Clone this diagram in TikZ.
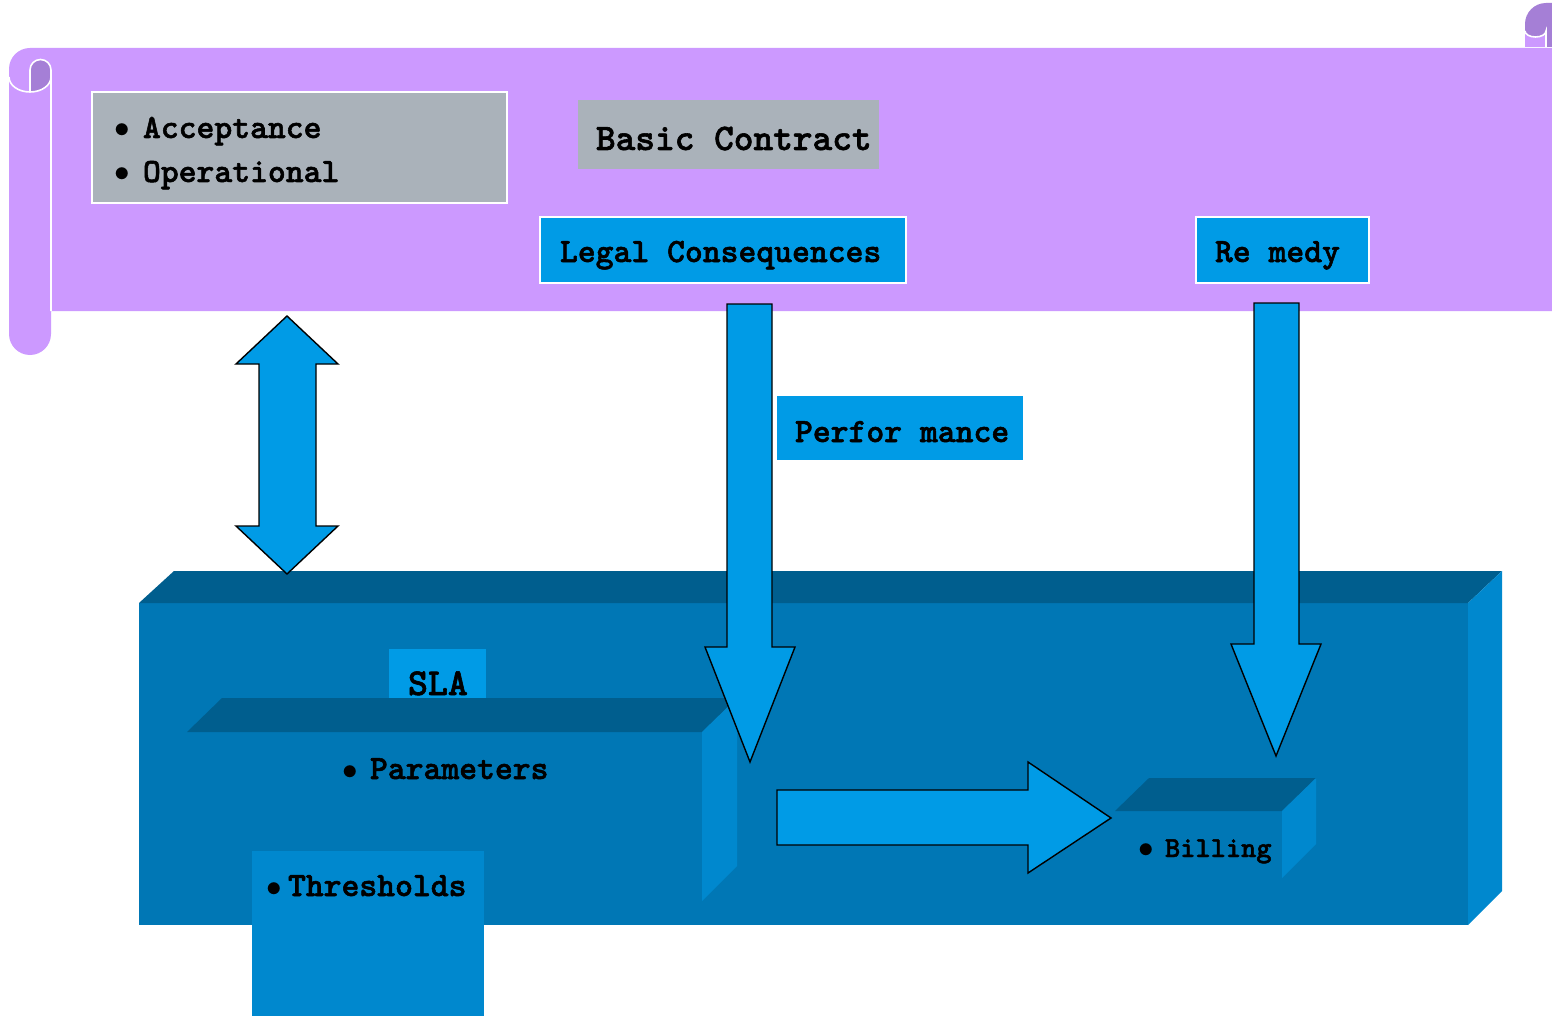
\documentclass[tikz,border=0pt]{standalone}
\usepackage{fontspec}
\usepackage{tikz}

% heavy slab-serif typewriter face
\newfontfamily\cour{lmmonolt10-bold.otf}[FakeBold=1.6]

\definecolor{scroll}{HTML}{CC99FF}
\definecolor{scrolldark}{HTML}{A57FD6}
\definecolor{panelgray}{HTML}{AAB2BA}
\definecolor{brightblue}{HTML}{009BE6}
\definecolor{slafront}{HTML}{0077B5}
\definecolor{slatop}{HTML}{005E8E}
\definecolor{slaside}{HTML}{0088CE}

\newcommand{\bul}{\raisebox{0em}{\scalebox{1.25}{$\bullet$}}}

\tikzset{
  graypanel/.style={fill=panelgray},
  bluepanel/.style={fill=brightblue},
  framed/.style={draw=white, line width=1.5pt},
  frontface/.style={fill=slafront},
  topface/.style={fill=slatop},
  sideface/.style={fill=slaside},
  blockarrow/.style={fill=brightblue, draw=black, line width=1.4pt, line join=miter},
  rollline/.style={draw=white, line width=1.6pt},
  lbl/.style={anchor=base west, inner sep=0pt, outer sep=0pt, text=black},
  txt/.style={lbl, font=\cour\fontsize{34}{40}\selectfont},
  bigtxt/.style={lbl, font=\cour\fontsize{37.5}{44}\selectfont},
}

\begin{document}
\begin{tikzpicture}[x=1pt, y=-1pt]
  \useasboundingbox (0,0) rectangle (1552,1016);
  \fill[white] (0,0) rectangle (1552,1016);

  % ---- scroll: right roll peeking at the top ----
  \fill[scrolldark] (1525,47) -- (1525,24) arc[start angle=180, end angle=270, radius=21]
        -- (1562,3) -- (1562,47) -- cycle;
  \fill[scroll] (1525,31) arc[start angle=180, end angle=0, x radius=10.5, y radius=6]
        -- (1546,47) -- (1525,47) -- cycle;
  \draw[rollline] (1525,31) arc[start angle=180, end angle=0, x radius=10.5, y radius=6]
        -- (1546,47);

  % ---- scroll: sheet with the left roll ----
  \fill[scroll] (30,48) -- (1552,48) -- (1552,311) -- (51,311) -- (51,334)
        arc[start angle=0, end angle=180, radius=21] -- (9,69)
        arc[start angle=180, end angle=270, radius=21] -- cycle;
  \fill[scrolldark] (30,92) -- (30,70) arc[start angle=180, end angle=360, radius=10.5]
        -- (51,77) arc[start angle=0, end angle=90, x radius=21, y radius=15] -- cycle;
  \draw[rollline] (30,92) -- (30,70) arc[start angle=180, end angle=360, radius=10.5] -- (51,77);
  \draw[rollline] (9,77) arc[start angle=180, end angle=0, x radius=21, y radius=15] -- (51,311);

  % ---- panels on the scroll ----
  \path[graypanel, framed] (92,92) rectangle (507,203);
  \path[graypanel] (578,100) rectangle (879,169);
  \path[bluepanel, framed] (540,217) rectangle (906,283);
  \path[bluepanel, framed] (1196,217) rectangle (1369,283);
  \path[bluepanel] (777,396) rectangle (1023,460);

  % ---- SLA block ----
  \path[frontface] (139,603) rectangle (1468,925);
  \path[topface] (139,603) -- (174,571) -- (1502,571) -- (1468,603) -- cycle;
  \path[sideface] (1468,603) -- (1502,571) -- (1502,891) -- (1468,925) -- cycle;
  \path[bluepanel] (389,649) rectangle (486,698);

  % parameters block
  \path[frontface] (187,732) rectangle (702,901);
  \path[topface] (187,732) -- (222,698) -- (737,698) -- (702,732) -- cycle;
  \path[sideface] (702,732) -- (737,698) -- (737,866) -- (702,901) -- cycle;

  % thresholds panel
  \path[sideface] (252,851) rectangle (484,1016);

  % billing block
  \path[frontface] (1115,811) rectangle (1282,878);
  \path[topface] (1115,811) -- (1149,778) -- (1316,778) -- (1282,811) -- cycle;
  \path[sideface] (1282,811) -- (1316,778) -- (1316,844) -- (1282,878) -- cycle;

  % ---- block arrows ----
  \path[blockarrow] (287,316) -- (338,364) -- (316,364) -- (316,526) -- (338,526)
        -- (287,574) -- (236,526) -- (259,526) -- (259,364) -- (236,364) -- cycle;
  \path[blockarrow] (727,304) -- (772,304) -- (772,647) -- (795,647) -- (750,762)
        -- (705,647) -- (727,647) -- cycle;
  \path[blockarrow] (1254,303) -- (1299,303) -- (1299,644) -- (1321,644) -- (1276,756)
        -- (1231,644) -- (1254,644) -- cycle;
  \path[blockarrow] (777,790) -- (1028,790) -- (1028,762) -- (1111,818) -- (1028,873)
        -- (1028,845) -- (777,845) -- cycle;

  % ---- labels ----
  \node[txt] (acc) at (114,138) {\makebox[29pt][l]{\bul}Acceptance};
  \node[txt] (ops) at (114,182) {\makebox[29pt][l]{\bul}Operational};
  \node[bigtxt] (basic) at (596,150) {Basic Contract};
  \node[txt] (legal) at (560,262) {Legal Consequences};
  \node[txt] (remedy) at (1215,262) {Re medy};
  \node[txt] (perf) at (795,442) {Perfor mance};
  \node[lbl, font=\cour\fontsize{38}{44}\selectfont] (sla) at (408,695) {SLA};
  \node[txt] (params) at (342,779) {\makebox[28pt][l]{\bul}Parameters};
  \node[txt] (thr) at (266,896) {\makebox[22pt][l]{\bul}Thresholds};
  \node[lbl, font=\cour\fontsize{29}{34}\selectfont] (bill) at (1138,857) {\makebox[27pt][l]{\bul}Billing};
\end{tikzpicture}
\end{document}
